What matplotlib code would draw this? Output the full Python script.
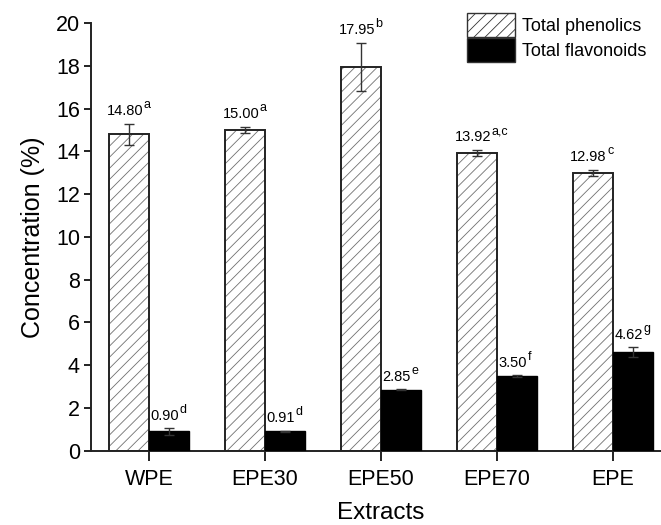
import matplotlib
matplotlib.use("Agg")
import matplotlib.pyplot as plt
from matplotlib.patches import Patch
import numpy as np

plt.rcParams['font.family'] = ['Liberation Sans', 'DejaVu Sans']
plt.rcParams['hatch.linewidth'] = 0.6

extracts = ["WPE", "EPE30", "EPE50", "EPE70", "EPE"]
phenolics = [14.80, 15.00, 17.95, 13.92, 12.98]
phenolics_err = [0.50, 0.15, 1.12, 0.15, 0.15]
phenolics_sig = ["a", "a", "b", "a,c", "c"]
flavonoids = [0.90, 0.91, 2.85, 3.50, 4.62]
flavonoids_err = [0.15, 0.02, 0.03, 0.03, 0.22]
flavonoids_sig = ["d", "d", "e", "f", "g"]

x = np.arange(len(extracts))
w = 0.345

fig = plt.figure(figsize=(6.61, 5.25), dpi=100)
ax = fig.add_axes([0.1377, 0.1415, 0.877, 0.8145])

# hatched bars: grey hatch layer, then dark outline on top
ax.bar(x - w / 2, phenolics, w, color="white", edgecolor="#707070",
       hatch="///", linewidth=0, zorder=2)
ax.bar(x - w / 2, phenolics, w, fill=False, edgecolor="#222222",
       linewidth=1.4, zorder=3)
ax.errorbar(x - w / 2, phenolics, yerr=phenolics_err, fmt="none",
            ecolor="#333333", elinewidth=1.0, capsize=3.5, capthick=1.0,
            zorder=4)

ax.bar(x + w / 2, flavonoids, w, color="black", edgecolor="black",
       linewidth=1.0, zorder=3)
ax.errorbar(x + w / 2, flavonoids, yerr=flavonoids_err, fmt="none",
            ecolor="#333333", elinewidth=1.0, capsize=3.5, capthick=1.0,
            zorder=4)


def label(xc, ytop, value, sig):
    t = ax.annotate("%.2f" % value, xy=(xc, ytop), xytext=(-3, 4),
                    textcoords="offset points", ha="center", va="bottom",
                    fontsize=10.5)
    ax.annotate(sig, xy=(1, 0.5), xycoords=t, xytext=(0.5, 0),
                textcoords="offset points", ha="left", va="bottom",
                fontsize=9)


for i in range(len(extracts)):
    label(x[i] - w / 2, phenolics[i] + phenolics_err[i], phenolics[i],
          phenolics_sig[i])
    label(x[i] + w / 2, flavonoids[i] + flavonoids_err[i], flavonoids[i],
          flavonoids_sig[i])

ax.set_xlim(-0.5, 4.5)
ax.set_ylim(0, 20)
ax.set_yticks(range(0, 21, 2))
ax.set_xticks(x)
ax.set_xticklabels(extracts)
ax.tick_params(axis="both", direction="out", labelsize=15.5, width=1.4,
               color="#222222")
ax.tick_params(axis="y", length=5, pad=3)
ax.tick_params(axis="x", length=7, pad=6)
for s in ["top", "right"]:
    ax.spines[s].set_visible(False)
for s in ["left", "bottom"]:
    ax.spines[s].set_linewidth(1.4)
    ax.spines[s].set_color("#222222")

ax.set_xlabel("Extracts", fontsize=17.5, labelpad=9)
ax.set_ylabel("Concentration (%)", fontsize=18, labelpad=8)

handles = [
    Patch(facecolor="white", edgecolor="#333333", hatch="///", linewidth=1.0),
    Patch(facecolor="black", edgecolor="#333333", linewidth=1.0),
]
fig.legend(handles, ["Total phenolics", "Total flavonoids"],
           loc="upper right", bbox_to_anchor=(0.995, 0.995), frameon=False,
           fontsize=13, handlelength=2.7, handleheight=1.6,
           labelspacing=0.1, handletextpad=0.4, borderaxespad=0.2)

fig.savefig("out.png", dpi=100)
